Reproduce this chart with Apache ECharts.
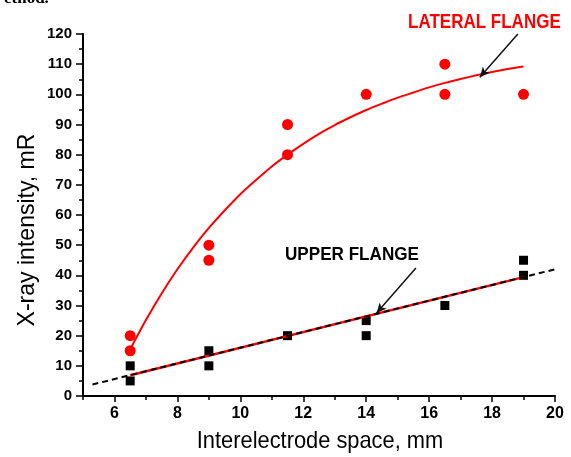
<!DOCTYPE html>
<html>
<head>
<meta charset="utf-8">
<script src="https://cdn.jsdelivr.net/npm/echarts@6/dist/echarts.min.js"></script>
<style>
  html, body { margin: 0; padding: 0; background: #fff; }
  #chart { width: 571px; height: 457px; }
</style>
</head>
<body>
<div id="chart"></div>
<script>
// measured points
const lateralX = [6.5, 6.5, 9, 9, 11.5, 11.5, 14, 16.5, 16.5, 19];
const lateralY = [20, 15, 50, 45, 90, 80, 100, 110, 100, 100];
const upperX = [6.5, 6.5, 9, 9, 11.5, 14, 14, 16.5, 19, 19];
const upperY = [10, 5, 15, 10, 20, 25, 20, 30, 45, 40];

// fitted curves
const lateralFitX = [6.5, 7, 7.5, 8, 8.5, 9, 9.5, 10, 10.5, 11, 11.5, 12, 12.5, 13,
  13.5, 14, 14.5, 15, 15.5, 16, 16.5, 17, 17.5, 18, 18.5, 19];
const lateralFitY = [15.5, 25.2, 34, 42, 49.2, 55.7, 61.5, 66.9, 71.6, 76.1, 80, 83.6, 86.9, 89.8,
  92.4, 94.8, 96.9, 98.9, 100.6, 102.3, 103.8, 105.1, 106.3, 107.4, 108.4, 109.2];
const upperFitX = [6.5, 19];
const upperFitY = [6.9, 39.4];
const upperDashX = [5.3, 20];
const upperDashY = [3.8, 42];

const xMajor = [6, 8, 10, 12, 14, 16, 18, 20];
const xMinor = [5, 7, 9, 11, 13, 15, 17, 19];

const pairs = (xs, ys) => xs.map((x, i) => [x, ys[i]]);

const chart = echarts.init(document.getElementById('chart'));

chart.setOption({
  animation: false,
  grid: { left: 83, right: 16, top: 34, bottom: 61, containLabel: false },
  xAxis: [{
    type: 'value',
    min: 5,
    max: 20,
    axisLine: { lineStyle: { color: '#000', width: 2 } },
    axisTick: { customValues: xMajor, length: 6, lineStyle: { color: '#000', width: 1.5 } },
    axisLabel: {
      customValues: xMajor, margin: 10,
      fontFamily: 'Liberation Sans', fontWeight: 'bold', fontSize: 16, color: '#000'
    },
    splitLine: { show: false }
  }, {
    type: 'value',
    min: 5,
    max: 20,
    position: 'bottom',
    axisLine: { show: false },
    axisTick: { customValues: xMinor, length: 4, lineStyle: { color: '#000', width: 1.5 } },
    axisLabel: { show: false },
    splitLine: { show: false }
  }],
  yAxis: {
    type: 'value',
    min: 0,
    max: 120,
    interval: 10,
    axisLine: { show: true, lineStyle: { color: '#000', width: 2 } },
    axisTick: { show: true, length: 7, lineStyle: { color: '#000', width: 1.5 } },
    minorTick: { show: true, splitNumber: 2, length: 4, lineStyle: { color: '#000', width: 1.5 } },
    axisLabel: { margin: 11, fontFamily: 'Liberation Sans', fontWeight: 'bold', fontSize: 15, color: '#000' },
    splitLine: { show: false }
  },
  series: [
    {
      type: 'line',
      data: pairs(lateralFitX, lateralFitY),
      smooth: 0.3,
      showSymbol: false,
      lineStyle: { color: '#ff0000', width: 2 },
      markLine: {
        silent: true,
        symbol: ['none', 'arrow'],
        symbolSize: [7, 10],
        label: { show: false },
        lineStyle: { color: '#111', width: 1.5, type: 'solid' },
        data: [
          [{ coord: [18.82, 120] }, { coord: [17.61, 105.7] }],
          [{ coord: [15.58, 42.4] }, { coord: [14.33, 27.5] }]
        ]
      }
    },
    {
      type: 'line',
      data: pairs(upperFitX, upperFitY),
      showSymbol: false,
      lineStyle: { color: '#ff0000', width: 2.5 }
    },
    {
      type: 'line',
      data: pairs(upperDashX, upperDashY),
      showSymbol: false,
      lineStyle: { color: '#000', width: 2, type: [6, 4] }
    },
    {
      type: 'scatter',
      data: pairs(lateralX, lateralY),
      symbol: 'circle',
      symbolSize: 11,
      itemStyle: { color: '#ff0000', opacity: 1 }
    },
    {
      type: 'scatter',
      data: pairs(upperX, upperY),
      symbol: 'rect',
      symbolSize: 9,
      itemStyle: { color: '#000', opacity: 1 }
    }
  ],
  graphic: [
    {
      type: 'text', x: 4, y: 7,
      style: { text: 'ethod.', font: 'bold 17px "Liberation Serif"', fill: '#000', verticalAlign: 'bottom' }
    },
    {
      type: 'text', x: 408, y: 12, scaleX: 0.81,
      style: { text: 'LATERAL FLANGE', font: 'bold 21px "Liberation Sans"', fill: '#ff0000' }
    },
    {
      type: 'text', x: 285, y: 246, scaleX: 0.95,
      style: { text: 'UPPER FLANGE', font: 'bold 18px "Liberation Sans"', fill: '#000' }
    },
    {
      type: 'text', x: 320, y: 441, scaleX: 0.91,
      style: {
        text: 'Interelectrode space, mm', font: '24px "Liberation Sans"', fill: '#000',
        align: 'center', verticalAlign: 'middle'
      }
    },
    {
      type: 'text', x: 27, y: 230, rotation: Math.PI / 2, scaleX: 0.96,
      style: {
        text: 'X-ray intensity, mR', font: '24px "Liberation Sans"', fill: '#000',
        align: 'center', verticalAlign: 'middle'
      }
    }
  ]
});
</script>
</body>
</html>
